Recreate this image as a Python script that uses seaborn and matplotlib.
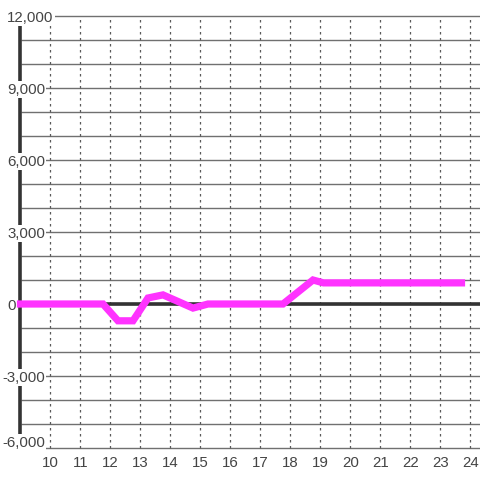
import matplotlib
matplotlib.use("Agg")
import matplotlib.pyplot as plt
import seaborn as sns
import pandas as pd

# data
hours = [9, 11.75, 12.25, 12.75, 13.25, 13.75, 14.75, 15.25, 17.75, 18.75, 19.1, 23.7]
values = [0, 0, -700, -700, 250, 380, -170, 0, 0, 1000, 880, 880]
x_ticks = list(range(10, 25))
y_ticks = [-6000, -3000, 0, 3000, 6000, 9000, 12000]
y_minor = list(range(-6000, 12001, 1000))

sns.set_style("white")
plt.rcParams['font.family'] = ['Liberation Sans', 'DejaVu Sans']

fig = plt.figure(figsize=(4.8, 4.8), dpi=100)
ax = fig.add_axes([0, 0, 1, 1])
ax.set_xlim(8.317, 24.317)
ax.set_ylim(-7333.3, 12666.7)
ax.axis('off')

# horizontal grid lines
ax.hlines(y_minor, 9.03, 24.317, colors='#707070', linewidth=1.0, zorder=1)
# vertical dotted grid lines
ax.vlines(x_ticks, -6000, 12000, colors='#5a5a5a', linewidth=0.9,
          linestyles=(0, (2.0, 2.8)), zorder=1)
# zero line
ax.hlines([0], 9, 24.317, colors='#333333', linewidth=2.6, zorder=2)
# left spine
ax.vlines([9], -6000, 12000, colors='#333333', linewidth=2.6, zorder=2)

df = pd.DataFrame({"hour": hours, "value": values})
sns.lineplot(data=df, x="hour", y="value", ax=ax, color='#ff33ff',
             linewidth=5.2, zorder=5, solid_capstyle='projecting',
             solid_joinstyle='miter')

# y tick labels
for v in y_ticks:
    x0 = 8.317 + (2.0 if v < 0 else 7) / 30
    yy = v + (290 if v == y_ticks[0] else 0)
    ax.text(x0, yy, f"{v:,}", ha='left', va='center_baseline', fontsize=10.8,
            color='#444444', zorder=4,
            bbox=dict(facecolor='white', edgecolor='none', pad=1.0))
# x tick labels
for t in x_ticks:
    ax.text(t, -6583, str(t), ha='center', va='center_baseline', fontsize=10.8,
            color='#444444', zorder=4)

ax.set_xlabel("")
ax.set_ylabel("")
if ax.get_legend():
    ax.get_legend().remove()

fig.savefig("out.png", dpi=100)
